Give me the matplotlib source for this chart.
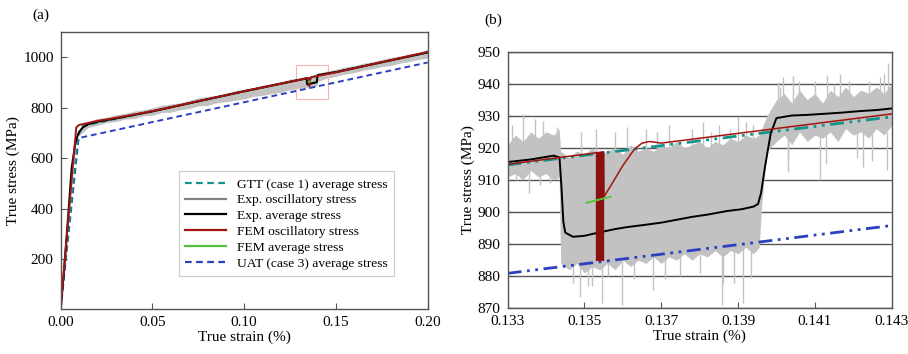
import numpy as np
import matplotlib
matplotlib.use("Agg")
import matplotlib.pyplot as plt
from matplotlib.lines import Line2D
from matplotlib.patches import Rectangle

plt.rcParams['font.family'] = ['Liberation Serif', 'DejaVu Serif']
plt.rcParams['font.size'] = 11

# ---------------- panel (a) data ----------------
exp_a_x = [0, 0.002, 0.004, 0.006, 0.008, 0.009, 0.010, 0.012, 0.015, 0.02, 0.03, 0.05,
           0.10, 0.134, 0.1344, 0.1396, 0.1400, 0.15, 0.20]
exp_a_y = [0, 170, 360, 560, 660, 685, 703, 722, 735, 745, 758, 786,
           866, 917, 893, 902, 930, 942, 1020]
fem_a_x = [0, 0.004, 0.0085, 0.010, 0.015, 0.02, 0.03, 0.05, 0.10, 0.1354, 0.1355,
           0.1356, 0.1366, 0.15, 0.20]
fem_a_y = [0, 345, 722, 732, 740, 748, 760, 787, 866, 919, 886, 905, 922, 941, 1022]
gtt_a_x = [0, 0.0095, 0.012, 0.2]
gtt_a_y = [0, 690, 728, 1020]
uat_a_x = [0, 0.0098, 0.2]
uat_a_y = [0, 680, 980]
femavg_a_x = [0.1351, 0.1357]
femavg_a_y = [903, 905]
band_a_x = [0.010, 0.015, 0.02, 0.025, 0.03, 0.035, 0.04, 0.045, 0.05, 0.055, 0.06, 0.065,
            0.07, 0.075, 0.08, 0.085, 0.09, 0.095, 0.10, 0.105, 0.11, 0.115, 0.12, 0.125,
            0.13, 0.134, 0.1344, 0.1396, 0.140, 0.145, 0.15, 0.155, 0.16, 0.165, 0.17,
            0.175, 0.18, 0.185, 0.19, 0.195, 0.20]
band_a_lo = [690, 722, 731, 742, 745, 755, 757, 768, 770, 781, 783, 792,
             797, 808, 809, 820, 824, 830, 835, 845, 850, 856, 862, 872,
             877, 882, 878, 886, 905, 917, 925, 934, 940, 950, 955, 964,
             968, 978, 984, 992, 998]
band_a_hi = [712, 745, 758, 762, 773, 778, 787, 792, 800, 810, 815, 820,
             829, 840, 845, 850, 858, 868, 874, 880, 890, 896, 903, 914,
             918, 924, 920, 926, 936, 946, 953, 962, 968, 977, 983, 992,
             1000, 1006, 1015, 1020, 1032]
box_a = (0.1282, 834, 0.1457, 971)  # zoom box x0, y0, x1, y1

# ---------------- panel (b) data ----------------
exp_b_x = [0.1330, 0.1336, 0.1342, 0.13435, 0.1344, 0.13445, 0.1345, 0.1347, 0.1350,
           0.1354, 0.1358, 0.1361, 0.1365, 0.1370, 0.1374, 0.1378, 0.1382, 0.1387,
           0.1391, 0.1394, 0.13952, 0.1396, 0.1397, 0.13985, 0.1400, 0.1404, 0.1408,
           0.1412, 0.1417, 0.1422, 0.1426, 0.1430]
exp_b_y = [915.6, 916.4, 917.6, 917.0, 908, 897, 893.6, 892.3, 892.6,
           893.7, 894.7, 895.3, 895.9, 896.7, 897.6, 898.5, 899.2, 900.3,
           900.9, 901.7, 902.5, 906, 914, 924.5, 929.3, 930.1, 930.3,
           930.6, 931.0, 931.5, 931.8, 932.3]
fem_b_x = [0.1330, 0.1355, 0.13551, 0.1357, 0.1360, 0.1363, 0.1365, 0.1367, 0.1370, 0.1430]
fem_b_y = [914.9, 918.8, 904.8, 908.5, 914.5, 919.6, 921.5, 922.0, 921.5, 930.6]
gtt_b_x = [0.1330, 0.1430]
gtt_b_y = [914.7, 929.7]
uat_b_x = [0.1330, 0.1430]
uat_b_y = [880.9, 895.8]
femavg_b_x = [0.13506, 0.13568]
femavg_b_y = [902.9, 904.8]
burst_x = [0.13540]
burst_lo = [884.7]
burst_hi = [918.8]

band_b_x = [0.1330, 0.1332, 0.1334, 0.1336, 0.1338, 0.1340, 0.1342, 0.13434, 0.13438,
            0.1346, 0.1348, 0.1350, 0.1352, 0.1354, 0.1356, 0.1358, 0.1360, 0.1362,
            0.1364, 0.1366, 0.1368, 0.1370, 0.1372, 0.1374, 0.1376, 0.1378, 0.1380,
            0.1382, 0.1384, 0.1386, 0.1388, 0.1390, 0.1392, 0.1394, 0.13955, 0.13962,
            0.13975, 0.1400, 0.1402, 0.1404, 0.1406, 0.1408, 0.1410, 0.1412, 0.1414,
            0.1416, 0.1418, 0.1420, 0.1422, 0.1424, 0.1426, 0.1428, 0.1430]
band_b_lo = [911, 912, 910, 913, 911, 912, 910, 911, 884,
             882, 884, 881, 883, 882, 884, 882, 885, 883,
             885, 884, 886, 884, 886, 885, 887, 885, 887,
             886, 888, 886, 888, 887, 889, 887, 889, 903,
             919, 922, 924, 921, 925, 922, 924, 923, 925,
             922, 926, 924, 925, 923, 926, 924, 927]
band_b_hi = [921, 924, 922, 925, 923, 925, 924, 926, 919,
             917, 919, 918, 920, 918, 919, 920, 918, 921,
             919, 920, 919, 921, 920, 922, 920, 921, 922,
             920, 922, 921, 923, 922, 924, 923, 924, 926,
             930, 935, 937, 934, 938, 935, 937, 934, 938,
             936, 939, 936, 938, 937, 939, 937, 940]
spike_x = [0.13341, 0.13393, 0.13428, 0.1358, 0.1361, 0.1366, 0.1385, 0.13901, 0.1392,
           0.14005, 0.14018, 0.14044, 0.1410, 0.14131, 0.14165, 0.1419, 0.1427, 0.14291,
           0.13323, 0.13384, 0.1347, 0.13488, 0.1351, 0.13545, 0.13597, 0.1363, 0.13679,
           0.1375, 0.13857, 0.1389, 0.13914, 0.13935, 0.14031, 0.14114, 0.14226, 0.14287,
           0.13312, 0.13355, 0.13372, 0.13410, 0.1349, 0.1353, 0.1369, 0.1372, 0.1378,
           0.1381, 0.1383, 0.1388, 0.1394, 0.1401, 0.1403, 0.1406, 0.1413, 0.1415,
           0.1421, 0.1424, 0.1425, 0.1428, 0.1352, 0.1356, 0.1371, 0.1380, 0.1386]
spike_lo = [918, 918, 918, 915, 915, 915, 915, 915, 915,
            930, 930, 930, 930, 930, 930, 930, 930, 930,
            910, 908.4, 878, 873.6, 876.8, 871.6, 871, 879, 875.6,
            880, 871, 878, 871.6, 879.4, 912.6, 910, 914, 913,
            918, 906, 918, 909, 915, 915, 915, 915, 915,
            915, 915, 915, 915, 930, 916, 930, 915, 930,
            917, 930, 916, 930, 877, 880, 879, 881, 878]
spike_hi = [930.5, 928.5, 926.6, 925, 926.6, 926, 927, 929.7, 928,
            940.6, 942.2, 942.4, 941, 942.7, 943, 941, 942, 946.4,
            915, 915, 890, 890, 890, 890, 890, 890, 890,
            890, 890, 890, 890, 890, 925, 925, 925, 925,
            927, 915, 929, 915, 925, 926, 925, 927, 926,
            928, 925, 926, 927, 939, 925, 941, 925, 940,
            925, 941, 925, 943, 890, 890, 890, 890, 890]

c_gtt = '#13948a'
c_gray = '#c2c2c2'
c_gray_leg = '#808080'
c_exp = '#000000'
c_fem = '#a3140f'
c_femavg = '#55c43c'
c_uat = '#2c3fbf'
c_spine = '#555555'

fig = plt.figure(figsize=(9.08, 3.54), dpi=100)
ax1 = fig.add_axes([0.0668, 0.1263, 0.4042, 0.7825])
ax2 = fig.add_axes([0.5591, 0.1291, 0.4229, 0.7249])

# ---- panel (a) ----
ax1.plot(uat_a_x, uat_a_y, color=c_uat, lw=1.4, dashes=(3, 2))
ax1.plot(gtt_a_x, gtt_a_y, color=c_gtt, lw=1.4, dashes=(3, 2))
ax1.fill_between(band_a_x, band_a_lo, band_a_hi, color=c_gray, lw=0)
ax1.plot(exp_a_x, exp_a_y, color=c_exp, lw=1.5)
ax1.plot(fem_a_x, fem_a_y, color=c_fem, lw=1.4)
ax1.plot(femavg_a_x, femavg_a_y, color=c_femavg, lw=1.4)
ax1.add_patch(Rectangle((box_a[0], box_a[1]), box_a[2] - box_a[0], box_a[3] - box_a[1],
                        fill=False, ec='#f2b8b0', lw=0.8))
ax1.set_xlim(0, 0.2)
ax1.set_ylim(0, 1100)
ax1.set_xticks([0, 0.05, 0.10, 0.15, 0.20])
ax1.set_xticklabels(['0.00', '0.05', '0.10', '0.15', '0.20'])
ax1.set_yticks([200, 400, 600, 800, 1000])
ax1.set_xlabel('True strain (%)', labelpad=1)
ax1.set_ylabel('True stress (MPa)', labelpad=2)

handles = [
    Line2D([], [], color=c_gtt, lw=1.6, dashes=(3, 2)),
    Line2D([], [], color=c_gray_leg, lw=1.6),
    Line2D([], [], color=c_exp, lw=1.6),
    Line2D([], [], color=c_fem, lw=1.6),
    Line2D([], [], color=c_femavg, lw=1.6),
    Line2D([], [], color=c_uat, lw=1.6, dashes=(3, 2)),
]
labels = ['GTT (case 1) average stress', 'Exp. oscillatory stress', 'Exp. average stress',
          'FEM oscillatory stress', 'FEM average stress', 'UAT (case 3) average stress']
leg = ax1.legend(handles, labels, loc='lower right', bbox_to_anchor=(0.927, 0.095),
                 fontsize=9.7, fancybox=False, edgecolor='#cccccc', framealpha=1,
                 handlelength=3.0, labelspacing=0.25, borderpad=0.5, handletextpad=0.8)
leg.get_frame().set_linewidth(0.8)

# ---- panel (b) ----
ax2.set_axisbelow(True)
ax2.grid(axis='y', color=c_spine, lw=1.0)
ax2.fill_between(band_b_x, band_b_lo, band_b_hi, color=c_gray, lw=0)
ax2.vlines(spike_x, spike_lo, spike_hi, color=c_gray, lw=1.0)
ax2.plot(uat_b_x, uat_b_y, color=c_uat, lw=2.0, dashes=(5, 2, 1, 2, 1, 2))
ax2.plot(gtt_b_x, gtt_b_y, color=c_gtt, lw=2.0, dashes=(5, 2, 1, 2, 1, 2))
ax2.plot(exp_b_x, exp_b_y, color=c_exp, lw=1.4)
ax2.plot(fem_b_x, fem_b_y, color=c_fem, lw=1.1)
ax2.vlines(burst_x, burst_lo, burst_hi, color='#8b1010', lw=6)
ax2.plot(femavg_b_x, femavg_b_y, color=c_femavg, lw=1.4)
ax2.set_xlim(0.133, 0.143)
ax2.set_ylim(870, 950)
ax2.set_xticks([0.133, 0.135, 0.137, 0.139, 0.141, 0.143])
ax2.set_xticklabels(['0.133', '0.135', '0.137', '0.139', '0.141', '0.143'])
ax2.set_yticks(np.arange(870, 951, 10))
ax2.set_xlabel('True strain (%)', labelpad=1)
ax2.set_ylabel('True stress (MPa)', labelpad=2)

for ax in (ax1, ax2):
    for s in ax.spines.values():
        s.set_color(c_spine)
        s.set_linewidth(1.0)
    ax.tick_params(direction='in', length=4, width=0.8, color=c_spine, labelsize=11, pad=5)

fig.text(0.045, 0.956, '(a)', fontsize=11, va='center', ha='center')
fig.text(0.543, 0.942, '(b)', fontsize=11, va='center', ha='center')

fig.savefig('out.png', dpi=100)
